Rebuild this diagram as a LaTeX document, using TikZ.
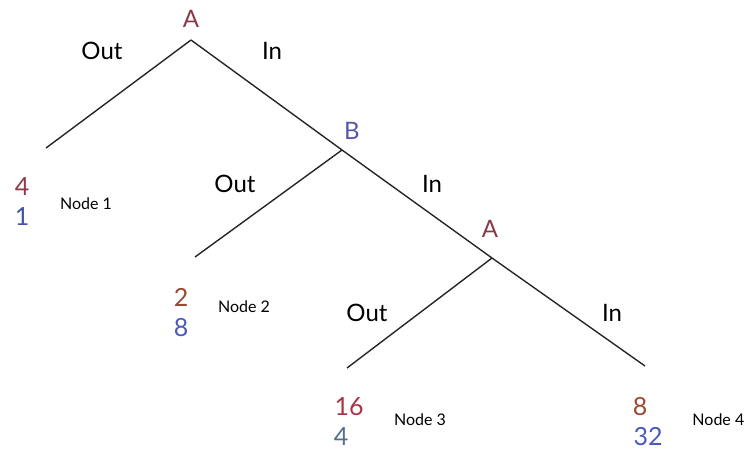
\documentclass[tikz,border=0pt]{standalone}
\usepackage{fontspec}
\setmainfont{Lato}
\definecolor{cA}{HTML}{8A3848}
\definecolor{cB}{HTML}{5A55A8}
\definecolor{cred}{HTML}{8E3A4C}
\definecolor{cblue}{HTML}{4452A8}
\definecolor{cbrown}{HTML}{9A4A30}
\definecolor{cblue2}{HTML}{4A5AB8}
\definecolor{cred2}{HTML}{A83444}
\definecolor{cgray}{HTML}{52708A}
\tikzset{
  branch/.style={draw=black!85, line width=1.4pt},
  edgelbl/.style={font=\fontsize{24}{28}\selectfont, text=black, inner sep=0pt},
  declbl/.style={font=\fontsize{24}{28}\selectfont, inner sep=0pt},
  payoff/.style={font=\fontsize{25}{30}\selectfont, inner sep=0pt},
  leaflbl/.style={font=\fontsize{16}{19}\selectfont, text=black, inner sep=0pt}
}
\begin{document}
\begin{tikzpicture}[x=1pt,y=-1pt]
\useasboundingbox (0,0) rectangle (745,451);
% junctions
\coordinate (j1) at (191,40);
\coordinate (j2) at (342,150);
\coordinate (j3) at (492,258);
% leaf ends
\coordinate (e1) at (46,148);
\coordinate (e2) at (195,257);
\coordinate (e3) at (347,368);
\coordinate (e4) at (645,366);
% branches
\draw[branch] (j1) -- (e1);
\draw[branch] (j1) -- (j2);
\draw[branch] (j2) -- (e2);
\draw[branch] (j2) -- (j3);
\draw[branch] (j3) -- (e3);
\draw[branch] (j3) -- (e4);
% decision labels
\node[declbl, text=cA] (lA1) at (191,19) {A};
\node[declbl, text=cB] (lB) at (352,131) {B};
\node[declbl, text=cA] (lA2) at (490,229) {A};
% edge labels
\node[edgelbl] (o1) at (102,51) {Out};
\node[edgelbl] (i1) at (272,51) {In};
\node[edgelbl] (o2) at (235,184) {Out};
\node[edgelbl] (i2) at (432,184) {In};
\node[edgelbl] (o3) at (367,313) {Out};
\node[edgelbl] (i3) at (612,313) {In};
% payoffs
\node[payoff, text=cred] (p1a) at (22,187) {4};
\node[payoff, text=cblue] (p1b) at (22,217) {1};
\node[leaflbl] (n1) at (86,204) {Node 1};
\node[payoff, text=cbrown] (p2a) at (181,297) {2};
\node[payoff, text=cblue2] (p2b) at (181,328) {8};
\node[leaflbl] (n2) at (244,307) {Node 2};
\node[payoff, text=cred2] (p3a) at (349,407) {16};
\node[payoff, text=cgray] (p3b) at (341,437) {4};
\node[leaflbl] (n3) at (420,420) {Node 3};
\node[payoff, text=cbrown] (p4a) at (640,407) {8};
\node[payoff, text=cblue2] (p4b) at (648,437) {32};
\node[leaflbl, anchor=east] (n4) at (744.5,420) {Node 4};
\end{tikzpicture}
\end{document}
